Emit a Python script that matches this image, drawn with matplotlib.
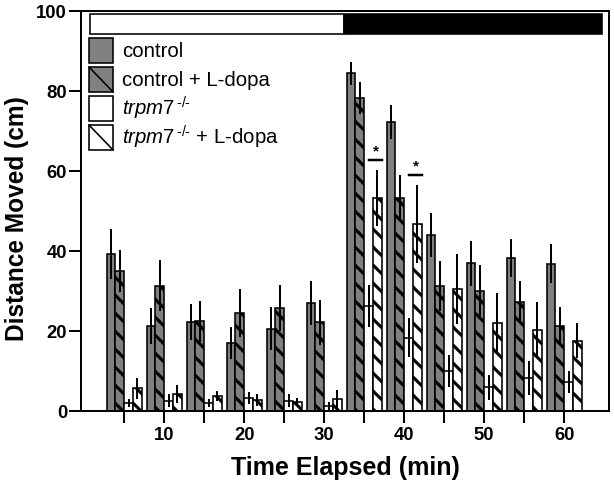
import matplotlib
matplotlib.use("Agg")
import matplotlib.pyplot as plt
from matplotlib.patches import Rectangle
from matplotlib.lines import Line2D
import numpy as np

# values (mean, sem per 5-min bin)
times = [5, 10, 15, 20, 25, 30, 35, 40, 45, 50, 55, 60]
control_mean = [39.2, 21.3, 22.2, 17.1, 20.6, 27.0, 84.4, 72.2, 44.0, 36.9, 38.3, 36.8]
control_sem = [6.2, 4.5, 4.5, 4.0, 5.3, 5.5, 2.9, 4.2, 5.4, 5.7, 4.8, 4.9]
ctrl_ldopa_mean = [35.0, 31.3, 22.4, 24.6, 25.7, 22.2, 78.2, 53.2, 31.3, 30.1, 27.3, 21.3]
ctrl_ldopa_sem = [5.2, 6.4, 5.2, 6.0, 5.8, 5.6, 4.0, 5.8, 6.2, 6.4, 5.3, 4.8]
trpm7_mean = [2.0, 2.6, 1.9, 3.3, 2.6, 1.3, 26.2, 18.3, 10.0, 5.9, 8.2, 7.2]
trpm7_sem = [1.0, 1.6, 1.0, 1.5, 1.6, 1.0, 5.2, 4.9, 4.0, 3.1, 4.3, 2.7]
trpm7_ldopa_mean = [5.7, 4.3, 3.7, 2.8, 2.2, 3.0, 53.3, 46.8, 30.5, 21.9, 20.2, 17.6]
trpm7_ldopa_sem = [2.6, 2.2, 1.3, 1.5, 1.0, 2.2, 7.0, 9.7, 8.8, 7.5, 7.0, 4.3]
sig_times = [35, 40]

labels = ["control", "control + L-dopa",
          "$\\mathit{trpm7}^{\\,\\mathit{\u2010/\u2010}}$",
          "$\\mathit{trpm7}^{\\,\\mathit{\u2010/\u2010}}$ + L-dopa"]

# light / dark period bar (minutes)
light_start, lights_off, dark_end = 0.7, 32.5, 64.7

DPI = 108
P = 72.0 / DPI  # pixels -> points

plt.rcParams["font.family"] = ["Liberation Sans", "DejaVu Sans"]
plt.rcParams["mathtext.fontset"] = "custom"
plt.rcParams["mathtext.rm"] = "Liberation Sans"
plt.rcParams["mathtext.it"] = "Liberation Sans:italic"
plt.rcParams["hatch.linewidth"] = 3.1 * P
plt.rcParams["hatch.color"] = "black"

fig = plt.figure(figsize=(614 / DPI, 487 / DPI), dpi=DPI)
ax = fig.add_axes([81 / 614, 1 - 411 / 487, 528 / 614, 400 / 487])

gray = "#808080"
w = 1.09
x = np.array(times, dtype=float)
series = [
    (control_mean, control_sem, gray, ""),
    (ctrl_ldopa_mean, ctrl_ldopa_sem, gray, "\\\\"),
    (trpm7_mean, trpm7_sem, "white", ""),
    (trpm7_ldopa_mean, trpm7_ldopa_sem, "white", "\\\\"),
]
for i, (m, s, fc, h) in enumerate(series):
    xi = x + (i - 1.5) * w
    ax.bar(xi, m, width=w, color=fc, edgecolor="black", linewidth=1.6 * P,
           hatch=h, zorder=2)
    ax.errorbar(xi, m, yerr=s, fmt="none", ecolor="black",
                elinewidth=2 * P, capsize=0, zorder=3)

# significance marks over trpm7 + L-dopa bars
for t in sig_times:
    k = times.index(t)
    xc = t + 1.5 * w - 0.2
    y = trpm7_ldopa_mean[k] + trpm7_ldopa_sem[k] + 2.4
    ax.plot([xc - 0.8, xc + 0.8], [y, y], color="black", lw=2.5 * P, zorder=3)
    ax.text(xc, y + 0.5, "*", ha="center", va="bottom", fontsize=15 * P,
            fontweight="bold")

# light / dark bar at the top
ax.add_patch(Rectangle((light_start, 94.3), lights_off - light_start, 5.0,
                       facecolor="white", edgecolor="black", lw=1.6 * P, zorder=2))
ax.add_patch(Rectangle((lights_off, 94.3), dark_end - lights_off, 5.0,
                       facecolor="black", edgecolor="black", lw=1.6 * P, zorder=2))

ax.set_xlim(-0.4, 65.6)
ax.set_ylim(0, 100)
ax.set_xticks(times)
ax.set_xticklabels([str(t) if t % 10 == 0 else "" for t in times])
ax.set_yticks([0, 20, 40, 60, 80, 100])
ax.tick_params(axis="both", direction="out", length=12 * P, width=2 * P,
               labelsize=18.5 * P)
ax.tick_params(axis="x", pad=4 * P)
ax.tick_params(axis="y", pad=2 * P)
for lab in ax.get_xticklabels() + ax.get_yticklabels():
    lab.set_fontweight("bold")
for sp in ax.spines.values():
    sp.set_linewidth(2 * P)

ax.set_xlabel("Time Elapsed (min)", fontsize=25 * P, fontweight="bold")
ax.set_ylabel("Distance Moved (cm)", fontsize=24.5 * P, fontweight="bold")
ax.xaxis.set_label_coords(0.5, -0.113)
ax.yaxis.set_label_coords(-0.098, 0.48)


class BoxHandler:
    # square swatch (optionally with one diagonal), a bit shorter than the row
    def __init__(self, fc, diag):
        self.fc = fc
        self.diag = diag

    def legend_artist(self, legend, orig_handle, fontsize, handlebox):
        x0, y0 = -handlebox.xdescent, -handlebox.ydescent
        bw, bh = handlebox.width, handlebox.height
        rh = 25 * P  # 25 px, handlebox works in points
        yb = y0 + (bh - rh) / 2
        tr = handlebox.get_transform()
        r = Rectangle((x0, yb), bw, rh, facecolor=self.fc, edgecolor="black",
                      lw=1.6 * P, transform=tr)
        handlebox.add_artist(r)
        if self.diag:
            handlebox.add_artist(Line2D([x0, x0 + bw], [yb + rh, yb],
                                        color="black", lw=1.6 * P, transform=tr))
        return r


handles = [object(), object(), object(), object()]
hmap = {handles[0]: BoxHandler(gray, False), handles[1]: BoxHandler(gray, True),
        handles[2]: BoxHandler("white", False), handles[3]: BoxHandler("white", True)}
fs = 20.4 * P
ax.legend(handles, labels, handler_map=hmap, loc="upper left",
          bbox_to_anchor=(8 / 528, 1 - 25 / 400), frameon=False,
          fontsize=fs, handlelength=1.18, handleheight=1.81,
          labelspacing=0.0, handletextpad=0.45, borderpad=0, borderaxespad=0)

fig.savefig("out.png", dpi=DPI)
